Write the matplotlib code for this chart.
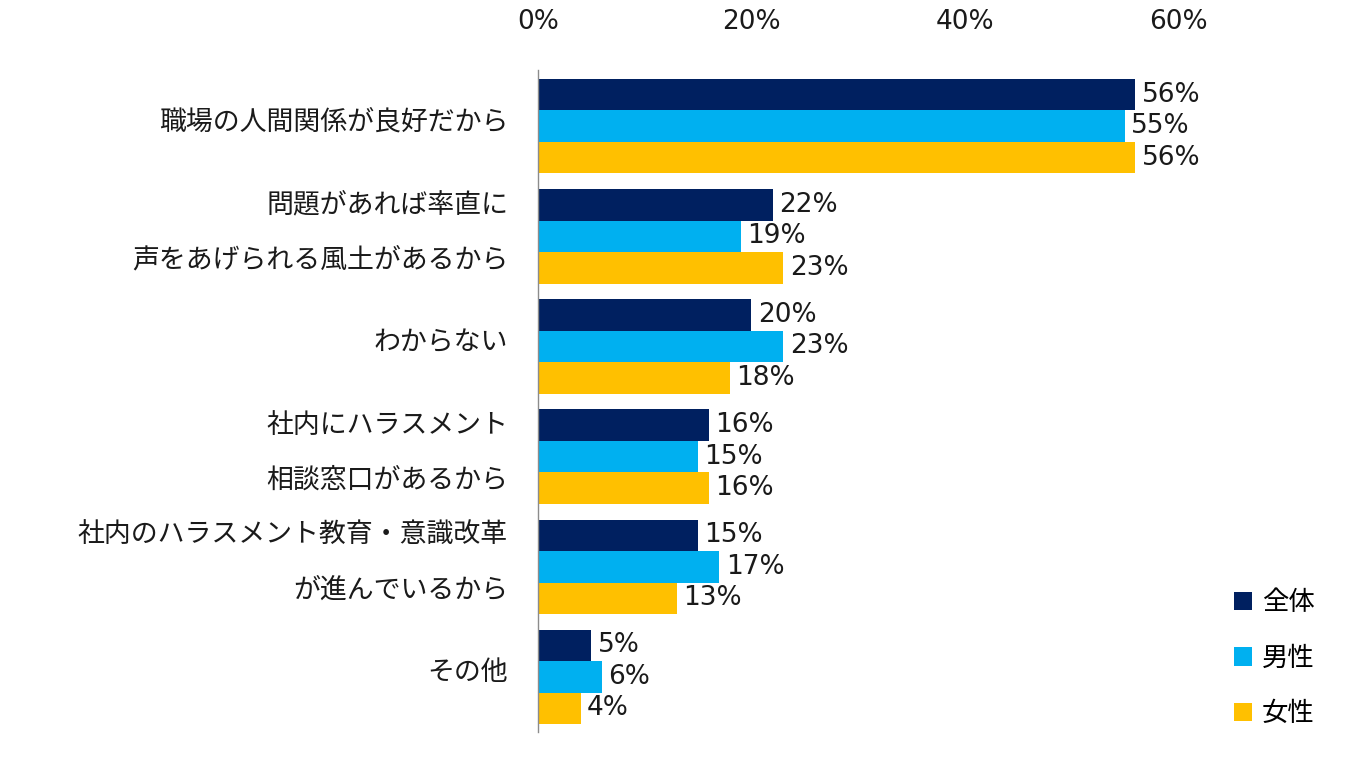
import matplotlib
matplotlib.use("Agg")
import matplotlib.pyplot as plt
import matplotlib.transforms as mtransforms
from matplotlib.patches import Patch
import numpy as np

categories = [
    "職場の人間関係が良好だから",
    "問題があれば率直に\n声をあげられる風土があるから",
    "わからない",
    "社内にハラスメント\n相談窓口があるから",
    "社内のハラスメント教育・意識改革\nが進んでいるから",
    "その他",
]
series_names = ["全体", "男性", "女性"]
total = [56, 22, 20, 16, 15, 5]
male = [55, 19, 23, 15, 17, 6]
female = [56, 23, 18, 16, 13, 4]
xticks = [0, 20, 40, 60]

colors = ["#002060", "#00B0F0", "#FFC000"]

plt.rcParams['font.family'] = ['DejaVu Sans', 'Noto Sans CJK JP']
FS = 19
FS_JP = 19.4

fig = plt.figure(figsize=(13.6, 7.59), dpi=100)
ax = fig.add_axes([538/1360, 1-732/759, (1178-538)/1360, (732-70)/759])

y = np.arange(len(categories))
h = 0.286
for k, (vals, c) in enumerate(zip([total, male, female], colors)):
    pos = y + (k - 1) * h
    bars = ax.barh(pos, vals, height=h, color=c, label=series_names[k])
    for b, v in zip(bars, vals):
        ax.text(b.get_width() + 0.6, b.get_y() + b.get_height()/2, f"{v}%",
                va='center', ha='left', fontsize=FS, color='#1a1a1a')

ax.set_xlim(0, 60)
ax.set_ylim(5.5, -0.51)
ax.xaxis.tick_top()
ax.set_xticks(xticks)
ax.set_xticklabels([f"{t}%" for t in xticks], fontsize=FS, color='#1a1a1a')
ax.tick_params(axis='x', length=0, pad=25)
ax.set_yticks([])

# category labels
for i, lab in enumerate(categories):
    tr = ax.get_yaxis_transform() + mtransforms.ScaledTranslation(-30/100, 4/100, fig.dpi_scale_trans)
    ax.text(0, i, lab, transform=tr, ha='right', va='center', fontsize=FS_JP,
            family=['Noto Sans CJK JP', 'DejaVu Sans'], linespacing=2.33,
            color='#1a1a1a', multialignment='right')

for s in ['top', 'right', 'bottom']:
    ax.spines[s].set_visible(False)
ax.spines['left'].set_color('#8c8c8c')
ax.spines['left'].set_linewidth(1)

handles = [Patch(facecolor=c, edgecolor='none') for c in colors]
leg = fig.legend(handles, series_names, loc='center left',
                 bbox_to_anchor=(1234/1360, 1-658/759), frameon=False,
                 prop={'family': ['Noto Sans CJK JP'], 'size': FS},
                 handlelength=0.7, handleheight=0.7, handletextpad=0.35,
                 labelspacing=1.08, borderpad=0, borderaxespad=0)

fig.savefig("out.png", dpi=100)
